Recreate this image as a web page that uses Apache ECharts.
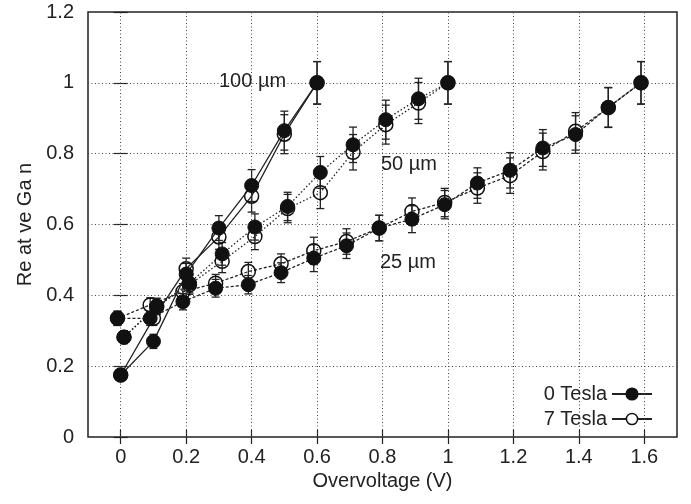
<!DOCTYPE html>
<html><head><meta charset="utf-8">
<script src="https://cdn.jsdelivr.net/npm/echarts@6/dist/echarts.min.js"></script>
<style>html,body{margin:0;padding:0;background:#fff}#c{width:691px;height:504px}</style>
</head><body><div id="c"></div>
<script>
// ---- data ----
const xTicks = [0, 0.2, 0.4, 0.6, 0.8, 1, 1.2, 1.4, 1.6];
const yTicks = [0, 0.2, 0.4, 0.6, 0.8, 1, 1.2];

const x100 = [0, 0.1, 0.2, 0.3, 0.4, 0.5, 0.6];
const y100_0T = [0.175, 0.27, 0.46, 0.59, 0.71, 0.865, 1.0];
const e100_0T = [0.015, 0.02, 0.03, 0.035, 0.045, 0.055, 0.06];
const y100_7T = [0.175, 0.335, 0.475, 0.565, 0.68, 0.855, 1.0];
const e100_7T = [0.015, 0.02, 0.03, 0.035, 0.045, 0.055, 0.06];

const x50 = [0.01, 0.11, 0.21, 0.31, 0.41, 0.51, 0.61, 0.71, 0.81, 0.91, 1.0];
const y50_0T = [0.282, 0.37, 0.434, 0.517, 0.593, 0.651, 0.747, 0.825, 0.896, 0.955, 1.0];
const e50_0T = [0.018, 0.022, 0.027, 0.032, 0.037, 0.04, 0.045, 0.05, 0.055, 0.058, 0.06];
const y50_7T = [0.282, 0.368, 0.43, 0.496, 0.566, 0.645, 0.69, 0.804, 0.882, 0.943, 1.0];
const e50_7T = [0.018, 0.022, 0.027, 0.032, 0.037, 0.04, 0.045, 0.05, 0.055, 0.058, 0.06];

const x25 = [-0.01, 0.09, 0.19, 0.29, 0.39, 0.49, 0.59, 0.69, 0.79, 0.89, 0.99, 1.09, 1.19, 1.29, 1.39, 1.49, 1.59];
const y25_0T = [0.335, 0.335, 0.382, 0.42, 0.43, 0.464, 0.505, 0.54, 0.59, 0.615, 0.656, 0.717, 0.753, 0.816, 0.854, 0.931, 1.0];
const e25_0T = [0.02, 0.02, 0.023, 0.025, 0.026, 0.028, 0.038, 0.036, 0.036, 0.038, 0.04, 0.043, 0.05, 0.052, 0.053, 0.056, 0.06];
const y25_7T = [0.335, 0.373, 0.41, 0.434, 0.467, 0.489, 0.526, 0.552, 0.59, 0.637, 0.662, 0.703, 0.738, 0.806, 0.863, 0.93, 1.0];
const e25_7T = [0.02, 0.02, 0.023, 0.025, 0.026, 0.028, 0.038, 0.036, 0.036, 0.038, 0.04, 0.043, 0.05, 0.052, 0.053, 0.056, 0.06];

const groupLabels = ['100 µm', '50 µm', '25 µm'];
const legendNames = ['0 Tesla', '7 Tesla'];

// ---- build ----
const FONT = '"Liberation Sans", Arial, sans-serif';
const FS = 20;
const TXT = '#222';
const chart = echarts.init(document.getElementById('c'), null, {renderer: 'canvas'});

function zip(xs, ys) { return xs.map((x, i) => [x, ys[i]]); }
function errData(xs, ys, es) { return xs.map((x, i) => [x, ys[i] - es[i], ys[i] + es[i]]); }

function errSeries(xs, ys, es) {
  return {
    type: 'custom', xAxisIndex: 0, yAxisIndex: 0, z: 3, silent: true,
    data: errData(xs, ys, es),
    encode: {x: 0, y: [1, 2]},
    renderItem: function (params, api) {
      const x = api.value(0), lo = api.value(1), hi = api.value(2);
      const p1 = api.coord([x, lo]), p2 = api.coord([x, hi]);
      const w = 4;
      const st = {stroke: '#222', lineWidth: 1.3};
      return {type: 'group', children: [
        {type: 'line', shape: {x1: p1[0], y1: p1[1], x2: p2[0], y2: p2[1]}, style: st},
        {type: 'line', shape: {x1: p1[0] - w, y1: p1[1], x2: p1[0] + w, y2: p1[1]}, style: st},
        {type: 'line', shape: {x1: p2[0] - w, y1: p2[1], x2: p2[0] + w, y2: p2[1]}, style: st}
      ]};
    }
  };
}

function lineSeries(name, xs, ys, lineType, filled) {
  return {
    name: name, type: 'line', z: filled ? 5 : 4,
    data: zip(xs, ys),
    symbol: 'circle', symbolSize: 14,
    showSymbol: true,
    itemStyle: filled ? {color: '#111', borderColor: '#111', borderWidth: 1}
                      : {color: 'rgba(255,255,255,0)', borderColor: '#111', borderWidth: 1.5},
    lineStyle: {color: '#222', width: 1.3, type: lineType},
    emphasis: {disabled: true},
    animation: false
  };
}

const solid = 'solid', dotted = [1.5, 2.2], dashed = [3, 2];

const series = [
  errSeries(x100, y100_7T, e100_7T), errSeries(x100, y100_0T, e100_0T),
  errSeries(x50, y50_7T, e50_7T), errSeries(x50, y50_0T, e50_0T),
  errSeries(x25, y25_7T, e25_7T), errSeries(x25, y25_0T, e25_0T),
  lineSeries(legendNames[0], x100, y100_0T, solid, true),
  lineSeries(legendNames[1], x100, y100_7T, solid, false),
  lineSeries(legendNames[1], x50, y50_7T, dotted, false),
  lineSeries(legendNames[1], x25, y25_7T, dashed, false),
  lineSeries(legendNames[0], x50, y50_0T, dotted, true),
  lineSeries(legendNames[0], x25, y25_0T, dashed, true)
];

// gridlines via markLine on an invisible helper series
series.push({
  type: 'line', data: [], silent: true, z: 1,
  markLine: {
    silent: true, symbol: 'none', label: {show: false}, animation: false,
    lineStyle: {color: '#444', width: 1, type: [1, 2.5]},
    data: xTicks.filter(v => v > -0.1 && v < 1.7).map(v => ({xAxis: v}))
      .concat(yTicks.filter(v => v > 0 && v < 1.2).map(v => ({yAxis: v})))
  }
});

const axisLabelStyle = {color: TXT, fontFamily: FONT, fontSize: FS};

const option = {
  animation: false,
  backgroundColor: '#fff',
  grid: {left: 88, right: 14, top: 12, bottom: 67, show: true, borderColor: '#222', borderWidth: 1.5},
  xAxis: [{
    type: 'value', min: -0.1, max: 1.7,
    name: 'Overvoltage (V)', nameLocation: 'middle', nameGap: 33,
    nameTextStyle: {color: TXT, fontFamily: FONT, fontSize: FS},
    axisLine: {show: false},
    axisTick: {show: true, inside: true, length: 7, customValues: xTicks, lineStyle: {color: '#222', width: 1.2}},
    axisLabel: Object.assign({customValues: xTicks, margin: 10, formatter: v => String(v)}, axisLabelStyle),
    splitLine: {show: false}
  }, {
    type: 'value', min: -0.1, max: 1.7, position: 'top',
    axisLine: {show: false},
    axisTick: {show: true, inside: true, length: 7, customValues: xTicks, lineStyle: {color: '#222', width: 1.2}},
    axisLabel: {show: false}, splitLine: {show: false}
  }],
  yAxis: [{
    type: 'value', min: 0, max: 1.2, interval: 0.2,
    name: 'Re at ve Ga n', nameLocation: 'middle', nameGap: 51, nameRotate: 90,
    nameTextStyle: {color: TXT, fontFamily: FONT, fontSize: FS},
    axisLine: {show: false},
    axisTick: {show: true, inside: true, length: 7, lineStyle: {color: '#222', width: 1.2}},
    axisLabel: Object.assign({margin: 14, formatter: v => String(Math.round(v * 10) / 10)}, axisLabelStyle),
    splitLine: {show: false}
  }, {
    type: 'value', min: 0, max: 1.2, interval: 0.2, position: 'right',
    axisLine: {show: false},
    axisTick: {show: true, inside: true, length: 7, lineStyle: {color: '#222', width: 1.2}},
    axisLabel: {show: false}, splitLine: {show: false}
  }],
  legend: {
    orient: 'vertical', right: 33, top: 379, align: 'right',
    itemWidth: 40, itemHeight: 14, itemGap: 5,
    textStyle: {color: TXT, fontFamily: FONT, fontSize: FS},
    data: [
      {name: legendNames[0]},
      {name: legendNames[1], itemStyle: {color: '#fff', borderColor: '#111', borderWidth: 1.5}}
    ],
    selectedMode: false
  },
  graphic: [
    {type: 'text', left: 219, top: 71, style: {text: groupLabels[0], fill: TXT, font: FS + 'px ' + FONT, backgroundColor: '#fff'}},
    {type: 'text', left: 381, top: 154, style: {text: groupLabels[1], fill: TXT, font: FS + 'px ' + FONT, backgroundColor: '#fff'}},
    {type: 'text', left: 380, top: 252, style: {text: groupLabels[2], fill: TXT, font: FS + 'px ' + FONT, backgroundColor: '#fff'}}
  ],
  series: series
};
chart.setOption(option);
</script>
</body></html>
